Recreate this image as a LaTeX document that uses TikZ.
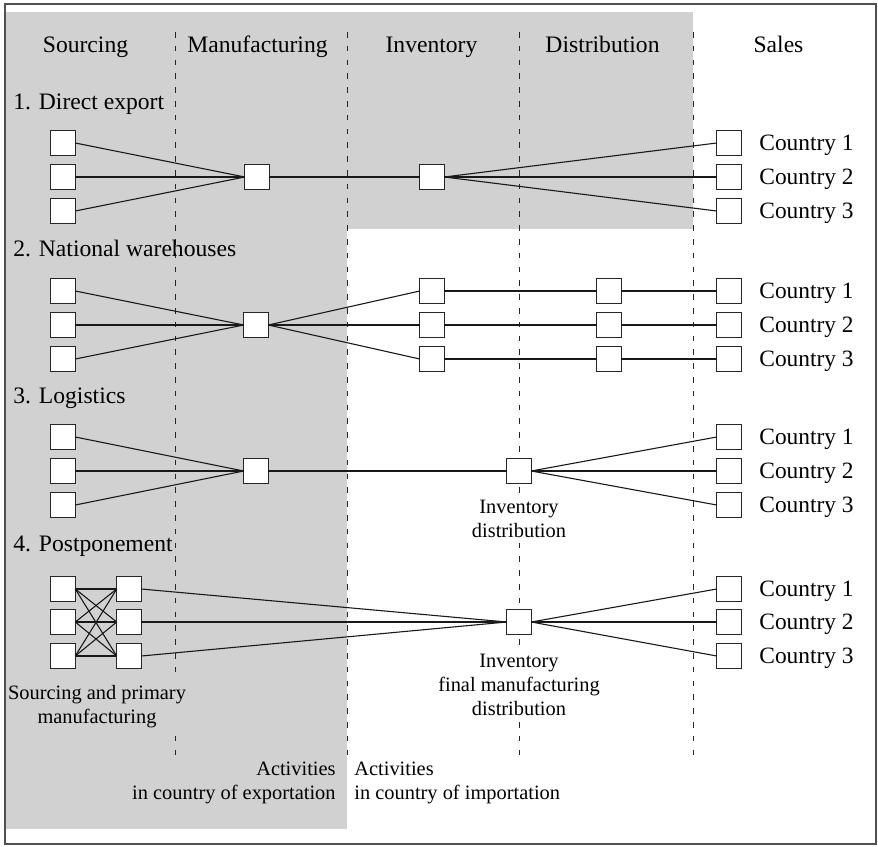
\documentclass[tikz,border=0pt]{standalone}
\usepackage{fontspec}
\setmainfont{Liberation Serif}
\definecolor{bgshade}{RGB}{209,209,209}
\definecolor{framecol}{RGB}{80,80,80}
\begin{document}
\begin{tikzpicture}[x=0.5pt,y=-0.5pt,
  box/.style={draw=black!85,line width=0.65pt,fill=white,minimum size=12.3pt,inner sep=0pt,outer sep=0pt},
  link/.style={draw=black!90,line width=0.55pt},
  divider/.style={draw=black!85,line width=0.5pt,dash pattern=on 2.8pt off 4.1pt},
  head/.style={font=\fontsize{11.8}{14}\selectfont,anchor=base,inner sep=0pt},
  rowlab/.style={font=\fontsize{11.8}{14}\selectfont,anchor=base west,inner sep=0pt},
  ctry/.style={font=\fontsize{11.7}{14}\selectfont,anchor=base west,inner sep=0pt},
  note/.style={font=\fontsize{10.2}{12}\selectfont,align=center,inner xsep=1pt,inner ysep=2pt},
  side/.style={font=\fontsize{10.2}{12}\selectfont,inner sep=0pt},
]
\useasboundingbox (0,0) rectangle (878,846);
% shaded zones
\fill[bgshade] (6,12) rectangle (693,229);
\fill[bgshade] (6,228) rectangle (347,829);
\draw[framecol,line width=0.8pt] (5,4) rectangle (876,844);
% dividers
\foreach \x in {175,347,519,693} \draw[divider] (\x,32) -- (\x,763);
% headers
\node[head] (hSo) at (85.5,53) {Sourcing};
\node[head] (hMa) at (257.5,53) {Manufacturing};
\node[head] (hIn) at (431.5,53) {Inventory};
\node[head] (hDi) at (602.5,53) {Distribution};
\node[head] (hSa) at (778.5,53) {Sales};
% row labels
\node[rowlab] (l1) at (13,109) {1. Direct export};
\node[rowlab] (l2) at (13,256) {2. National warehouses};
\node[rowlab] (l3) at (13,403) {3. Logistics};
\node[rowlab] (l4) at (13,551) {4. Postponement};
% notes under boxes (drawn before boxes)
\node[note,fill=white,anchor=base] (r3n) at (519,537) {Inventory\\distribution};
\node[note,fill=white,anchor=base] (r4n) at (519,715) {Inventory\\final manufacturing\\distribution};
\node[note,fill=bgshade,anchor=base] (r4s) at (97,723) {Sourcing and primary\\manufacturing};
% ---------- row 1
\foreach \i/\y in {1/143,2/177,3/211} {
  \node[box] (r1s\i) at (63,\y) {};
  \node[box] (r1c\i) at (729,\y) {};
  \node[ctry] (r1t\i) at (759,\y+7) {Country \i};
}
\node[box] (r1m) at (257,177) {};
\node[box] (r1i) at (432,177) {};
\foreach \i in {1,2,3} {
  \draw[link] (r1s\i.east) -- (r1m.west);
  \draw[link] (r1i.east) -- (r1c\i.west);
}
\draw[link] (r1m) -- (r1i);
% ---------- row 2
\foreach \i/\y in {1/291,2/325,3/359} {
  \node[box] (r2s\i) at (63,\y) {};
  \node[box] (r2i\i) at (432,\y) {};
  \node[box] (r2d\i) at (609,\y) {};
  \node[box] (r2c\i) at (729,\y) {};
  \node[ctry] (r2t\i) at (759,\y+7) {Country \i};
}
\node[box] (r2m) at (256,325) {};
\foreach \i in {1,2,3} {
  \draw[link] (r2s\i.east) -- (r2m.west);
  \draw[link] (r2m.east) -- (r2i\i.west);
  \draw[link] (r2i\i) -- (r2d\i);
  \draw[link] (r2d\i) -- (r2c\i);
}
% ---------- row 3
\foreach \i/\y in {1/437,2/471,3/505} {
  \node[box] (r3s\i) at (63,\y) {};
  \node[box] (r3c\i) at (729,\y) {};
  \node[ctry] (r3t\i) at (759,\y+7) {Country \i};
}
\node[box] (r3m) at (256,471) {};
\node[box] (r3x) at (519,471) {};
\foreach \i in {1,2,3} {
  \draw[link] (r3s\i.east) -- (r3m.west);
  \draw[link] (r3x.east) -- (r3c\i.west);
}
\draw[link] (r3m) -- (r3x);
% ---------- row 4
\foreach \i/\y in {1/589,2/622,3/656} {
  \node[box] (r4a\i) at (63,\y) {};
  \node[box] (r4b\i) at (129,\y) {};
  \node[box] (r4c\i) at (729,\y) {};
  \node[ctry] (r4t\i) at (759,\y+7) {Country \i};
}
\node[box] (r4x) at (519,622) {};
\foreach \i in {1,2,3} {
  \foreach \j in {1,2,3} \draw[link] (r4a\i.east) -- (r4b\j.west);
  \draw[link] (r4b\i.east) -- (r4x.west);
  \draw[link] (r4x.east) -- (r4c\i.west);
}
% ---------- bottom notes
\node[side,align=right,anchor=base east] (exp) at (336,799) {Activities\\in country of exportation};
\node[side,align=left,anchor=base west] (imp) at (354,799) {Activities\\in country of importation};
\end{tikzpicture}
\end{document}
